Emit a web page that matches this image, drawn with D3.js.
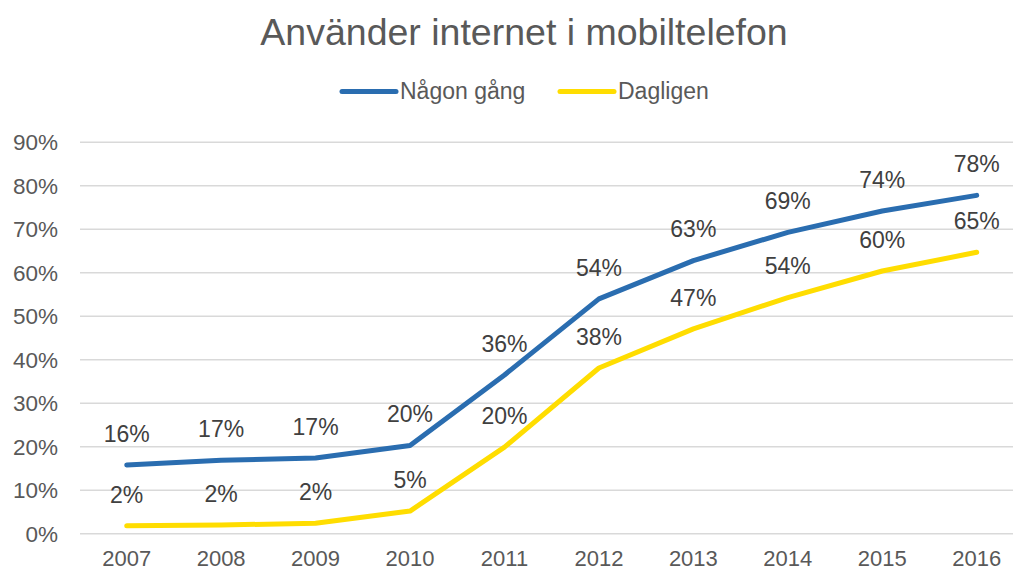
<!DOCTYPE html>
<html>
<head>
<meta charset="utf-8">
<script src="https://cdn.jsdelivr.net/npm/d3@7"></script>
<style>
  body { margin: 0; background: #fff; }
  text { font-family: "Liberation Sans", Arial, sans-serif; }
</style>
</head>
<body>
<svg id="chart" width="1013" height="571"></svg>
<script>
const years = ["2007", "2008", "2009", "2010", "2011", "2012", "2013", "2014", "2015", "2016"];
const nagonGang = [15.8, 16.9, 17.4, 20.3, 36.5, 54.0, 62.8, 69.3, 74.2, 77.8];
const dagligen = [1.8, 2.0, 2.4, 5.2, 19.9, 38.1, 47.1, 54.3, 60.4, 64.7];
const nagonLabels = ["16%", "17%", "17%", "20%", "36%", "54%", "63%", "69%", "74%", "78%"];
const dagligenLabels = ["2%", "2%", "2%", "5%", "20%", "38%", "47%", "54%", "60%", "65%"];
const yTicks = [0, 10, 20, 30, 40, 50, 60, 70, 80, 90];

const series = [
  { name: "Någon gång", values: nagonGang, labels: nagonLabels, color: "#2a6db0" },
  { name: "Dagligen", values: dagligen, labels: dagligenLabels, color: "#ffdd00" }
];

const svg = d3.select("#chart");

const x = d3.scalePoint().domain(years).range([126.7, 976.7]);
const y = d3.scaleLinear().domain([0, 90]).range([533.7, 142.3]);

// grid
svg.append("g")
  .selectAll("line")
  .data(yTicks)
  .join("line")
    .attr("x1", 80)
    .attr("x2", 1013)
    .attr("y1", d => y(d))
    .attr("y2", d => y(d))
    .attr("stroke", "#d9d9d9")
    .attr("stroke-width", 1.5);

// y labels
svg.append("g")
  .selectAll("text")
  .data(yTicks)
  .join("text")
    .attr("x", 58)
    .attr("y", d => y(d))
    .attr("dy", "0.35em")
    .attr("text-anchor", "end")
    .attr("font-size", "22.5px")
    .attr("fill", "#595959")
    .text(d => d + "%");

// x labels
svg.append("g")
  .selectAll("text")
  .data(years)
  .join("text")
    .attr("x", d => x(d))
    .attr("y", 566)
    .attr("text-anchor", "middle")
    .attr("font-size", "22px")
    .attr("fill", "#595959")
    .text(d => d);

const line = d3.line()
  .x((d, i) => x(years[i]))
  .y(d => y(d));

series.forEach(function(s) {
  svg.append("path")
    .datum(s.values)
    .attr("d", line)
    .attr("fill", "none")
    .attr("stroke", s.color)
    .attr("stroke-width", 5)
    .attr("stroke-linecap", "round")
    .attr("stroke-linejoin", "round");

  svg.append("g")
    .selectAll("text")
    .data(s.values)
    .join("text")
      .attr("x", (d, i) => x(years[i]))
      .attr("y", d => y(d) - 23.3)
      .attr("text-anchor", "middle")
      .attr("font-size", "23px")
      .attr("fill", "#404040")
      .text((d, i) => s.labels[i]);
});

// title
svg.append("text")
  .attr("x", 524)
  .attr("y", 45)
  .attr("text-anchor", "middle")
  .attr("font-size", "37.5px")
  .attr("fill", "#595959")
  .text("Använder internet i mobiltelefon");

// legend
const legendItems = [
  { name: series[0].name, color: series[0].color, x0: 342 },
  { name: series[1].name, color: series[1].color, x0: 560 }
];
legendItems.forEach(function(l) {
  svg.append("line")
    .attr("x1", l.x0)
    .attr("x2", l.x0 + 54)
    .attr("y1", 91.5)
    .attr("y2", 91.5)
    .attr("stroke", l.color)
    .attr("stroke-width", 5)
    .attr("stroke-linecap", "round");
  svg.append("text")
    .attr("x", l.x0 + 58)
    .attr("y", 99)
    .attr("font-size", "23px")
    .attr("fill", "#595959")
    .text(l.name);
});
</script>
</body>
</html>
